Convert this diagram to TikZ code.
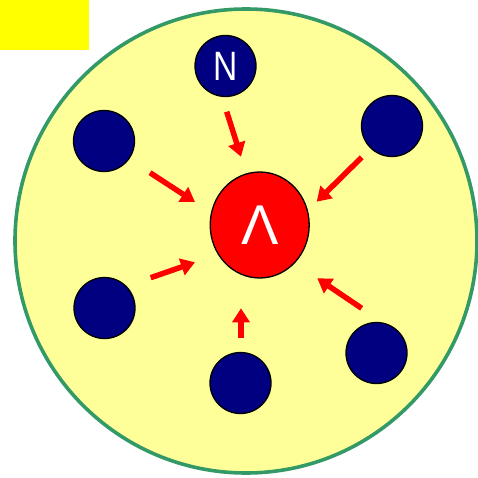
\documentclass[tikz,border=0pt]{standalone}
\usepackage{fontspec}
\setmainfont{Liberation Sans}
\usetikzlibrary{arrows.meta,shapes.geometric}
\definecolor{pale}{HTML}{FFFF99}
\definecolor{rim}{HTML}{339966}
\definecolor{navy}{HTML}{000080}
\definecolor{brightyellow}{HTML}{FFFF00}
\tikzset{
  nucleon/.style={circle, fill=navy, draw=black, line width=1.3pt, minimum size=61pt, inner sep=0pt, text=white},
  hyperon/.style={ellipse, fill=red, draw=black, line width=1.3pt, minimum width=99pt, minimum height=106pt, inner sep=0pt, text=white},
  pull/.style={draw=red, line width=5.5pt, -{Triangle[length=14pt,width=17pt]}}
}
\begin{document}
\begin{tikzpicture}[x=1pt,y=-1pt]
\useasboundingbox (0,0) rectangle (477,478);
\fill[brightyellow] (0,0) rectangle (89,50);
\draw[fill=pale, draw=rim, line width=3.6pt] (246,241) ellipse [x radius=231, y radius=232];
\node[hyperon, font=\fontsize{56}{56}\selectfont] (L) at (259.7,225) {Λ};
\node[nucleon, font=\fontsize{41}{41}\selectfont] (N) at (225.5,66) {\scalebox{0.82}[1]{N}};
\node[nucleon] (n1) at (104,141) {};
\node[nucleon] (n2) at (392,126) {};
\node[nucleon] (n3) at (104.5,308) {};
\node[nucleon] (n4) at (240.5,383) {};
\node[nucleon] (n5) at (376.5,353) {};
\coordinate (a0s) at (226.7,111.7); \coordinate (a0e) at (241,156.7);
\coordinate (a1s) at (150,172.7);   \coordinate (a1e) at (195,202);
\coordinate (a2s) at (361.7,157.3); \coordinate (a2e) at (316.7,201.7);
\coordinate (a3s) at (150.7,277.7); \coordinate (a3e) at (195,262.3);
\coordinate (a4s) at (241,338.3);   \coordinate (a4e) at (241,308.3);
\coordinate (a5s) at (361.7,308.3); \coordinate (a5e) at (317.3,278.3);
\foreach \i in {0,...,5} \draw[pull] (a\i s) -- (a\i e);
\end{tikzpicture}
\end{document}
